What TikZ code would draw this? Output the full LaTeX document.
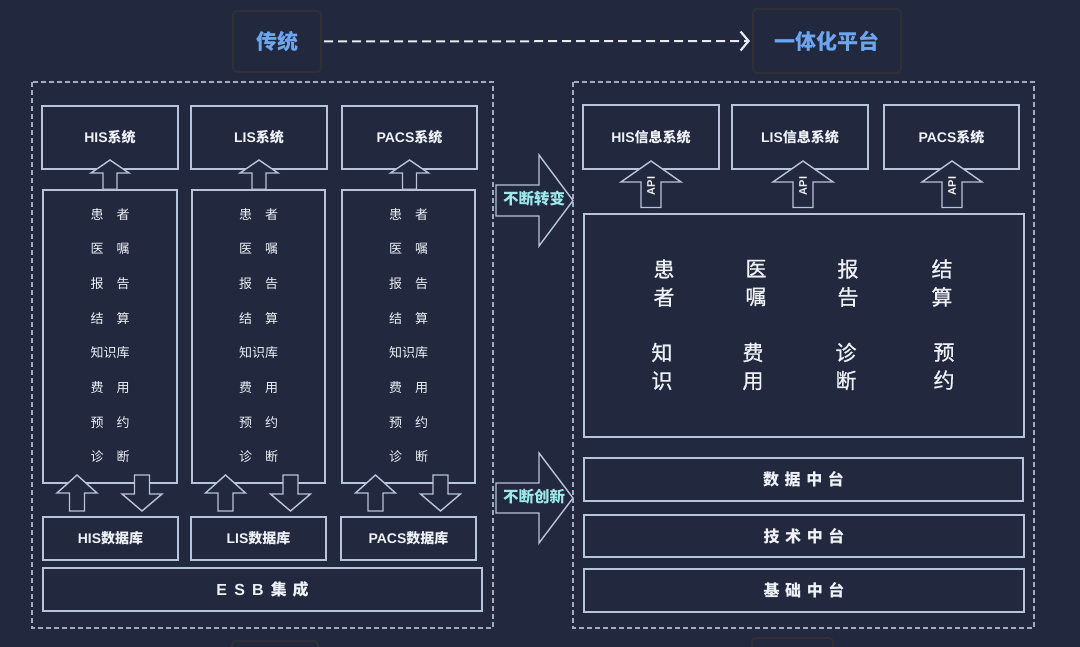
\documentclass[tikz,border=0pt]{standalone}
\usepackage{fontspec}
\setmainfont{Noto Sans CJK SC}
\newfontfamily\lat{Liberation Sans}
\newfontfamily\med[FakeBold=0.8]{Noto Sans CJK SC}
\usetikzlibrary{arrows.meta}
\definecolor{bg}{RGB}{34,40,62}
\definecolor{ln}{RGB}{182,196,220}
\definecolor{dl}{RGB}{160,172,194}
\definecolor{tx}{RGB}{238,241,246}
\definecolor{ttl}{RGB}{108,166,238}
\definecolor{cy}{RGB}{156,232,234}
\definecolor{tb}{RGB}{46,48,54}
\definecolor{da}{RGB}{232,234,240}
\tikzset{
  box/.style={draw=ln, line width=1.4pt, inner sep=0pt, text=tx},
  lbl/.style={font=\bfseries\fontsize{14}{14}\selectfont, text=tx},
  item/.style={font=\fontsize{13}{13}\selectfont, text=tx, inner sep=0pt},
  grid/.style={font=\med\fontsize{21}{28}\selectfont, text=tx, align=center, inner sep=0pt},
  cont/.style={draw=dl, line width=1.2pt, dash pattern=on 5pt off 3pt},
  arrbox/.style={draw=ln, fill=bg, line width=1.4pt, line join=miter},
  titlebox/.style={draw=tb, line width=2pt, rounded corners=4pt, inner sep=0pt,
    text=ttl, font=\bfseries\fontsize{21}{21}\selectfont},
  sidetext/.style={text=cy, font=\bfseries\fontsize{15.5}{16}\selectfont, inner sep=0pt},
  apitext/.style={rotate=90, text=tx, font=\lat\bfseries\fontsize{11}{11}\selectfont, inner sep=0pt},
}
% block arrow pointing along y: cx, tip y, head-base y, shaft-end y, head half width, shaft half width
\newcommand\VArr[6]{%
  \filldraw[arrbox] (#1,#2) -- ({#1+#5},#3) -- ({#1+#6},#3) -- ({#1+#6},#4)
    -- ({#1-#6},#4) -- ({#1-#6},#3) -- ({#1-#5},#3) -- cycle;}
% block arrow pointing right: cy, tip x, head-base x, shaft-end x, head half, shaft half
\newcommand\HArr[6]{%
  \filldraw[arrbox] (#2,#1) -- (#3,{#1-#5}) -- (#3,{#1-#6}) -- (#4,{#1-#6})
    -- (#4,{#1+#6}) -- (#3,{#1+#6}) -- (#3,{#1+#5}) -- cycle;}
\begin{document}
\begin{tikzpicture}[x=1pt,y=-1pt]
\useasboundingbox (0,0) rectangle (1080,647);
\fill[bg] (0,0) rectangle (1080,647);

% faint cut-off boxes at the bottom
\begin{scope}
\clip (0,0) rectangle (1080,647);
\draw[draw=tb, line width=2pt, rounded corners=4pt] (232,641) rectangle (318,700);
\draw[draw=tb, line width=2pt, rounded corners=4pt] (752,638) rectangle (833,700);
\end{scope}

% titles
\node[titlebox, minimum width=88, minimum height=61] (t1) at (277,41.5) {传统};
\node[titlebox, minimum width=148, minimum height=64] (t2) at (827,41) {一体化平台};
\draw[draw=da, line width=2pt, dash pattern=on 9pt off 5pt,
  -{Straight Barb[length=8pt,width=19pt,line width=2.2pt]}]
  ([xshift=2pt]t1.east) -- ([xshift=-2pt]t2.west);

% containers
\draw[cont] (32,82) rectangle (493,628);
\draw[cont] (573,82) rectangle (1034,628);

% ===== left side =====
\node[box, lbl, minimum width=136, minimum height=63] (hs) at (110,137.5) {{\lat HIS}系统};
\node[box, lbl, minimum width=136, minimum height=63] (ls) at (259,137.5) {{\lat LIS}系统};
\node[box, lbl, minimum width=135, minimum height=63] (ps) at (409.5,137.5) {{\lat PACS}系统};

\node[box, minimum width=134, minimum height=293] (hl) at (110,336.5) {};
\node[box, minimum width=133, minimum height=293] (ll) at (258.5,336.5) {};
\node[box, minimum width=133, minimum height=293] (pl) at (408.5,336.5) {};

\node[box, lbl, minimum width=135, minimum height=43] (hd) at (110.5,538.5) {{\lat HIS}数据库};
\node[box, lbl, minimum width=135, minimum height=43] (ld) at (258.5,538.5) {{\lat LIS}数据库};
\node[box, lbl, minimum width=135, minimum height=43] (pd) at (408.5,538.5) {{\lat PACS}数据库};

\node[box, minimum width=439, minimum height=43,
  font=\bfseries\fontsize{16}{16}\selectfont] (esb) at (262.5,589.5)
  {{\lat E\hspace{0.45em}S\hspace{0.45em}B}\hspace{0.45em}集\hspace{0.35em}成};

% arrows from lists up to systems
\foreach \c in {110,259,409.5} {\VArr{\c}{160}{173}{189.3}{19}{7}}
% arrows between lists and databases
\foreach \c in {110,258.5,408.5} {
  \VArr{\c-33}{475}{493}{511}{20}{7.5}
  \VArr{\c+32}{511}{494}{475}{20}{7.5}
}

% list items
\foreach \cx/\p in {110/h,258.5/l,408.5/p} {
  \foreach \t [count=\i from 0] in {患\hspace{1em}者,医\hspace{1em}嘱,报\hspace{1em}告,结\hspace{1em}算,知识库,费\hspace{1em}用,预\hspace{1em}约,诊\hspace{1em}断} {
    \node[item] (\p i\i) at (\cx,{214.5+34.6*\i}) {\t};
  }
}

% ===== middle arrows =====
\HArr{200.5}{573}{539}{496}{45.5}{15.5}
\node[sidetext] (tr1) at (534,199) {不断转变};
\HArr{498}{573}{539}{496}{45}{15}
\node[sidetext] (tr2) at (534,497) {不断创新};

% ===== right side =====
\node[box, lbl, minimum width=136, minimum height=64] (rh) at (651,137) {{\lat HIS}信息系统};
\node[box, lbl, minimum width=136, minimum height=64] (rl) at (800,137) {{\lat LIS}信息系统};
\node[box, lbl, minimum width=135, minimum height=64] (rp) at (951.5,137) {{\lat PACS}系统};

\node[box, minimum width=440, minimum height=223] (core) at (804,325.5) {};

\foreach \c/\n in {651/a1,803/a2,952/a3} {
  \VArr{\c}{161}{182}{207.5}{30}{10}
  \node[apitext] (\n) at (\c,186) {API};
}

\foreach \x/\t [count=\i] in {664/患\\者,756/医\\嘱,848/报\\告,942/结\\算} {
  \node[grid] (g1\i) at (\x,283) {\t};
}
\foreach \x/\t [count=\i] in {662/知\\识,753/费\\用,846/诊\\断,944/预\\约} {
  \node[grid] (g2\i) at (\x,366.5) {\t};
}

\node[box, minimum width=439, minimum height=43,
  font=\bfseries\fontsize{16}{16}\selectfont] (sj) at (803.5,479.5)
  {数\hspace{0.35em}据\hspace{0.35em}中\hspace{0.35em}台};
\node[box, minimum width=440, minimum height=42,
  font=\bfseries\fontsize{16}{16}\selectfont] (js) at (804,536)
  {技\hspace{0.35em}术\hspace{0.35em}中\hspace{0.35em}台};
\node[box, minimum width=440, minimum height=43,
  font=\bfseries\fontsize{16}{16}\selectfont] (jc) at (804,590.5)
  {基\hspace{0.35em}础\hspace{0.35em}中\hspace{0.35em}台};
\end{tikzpicture}
\end{document}
